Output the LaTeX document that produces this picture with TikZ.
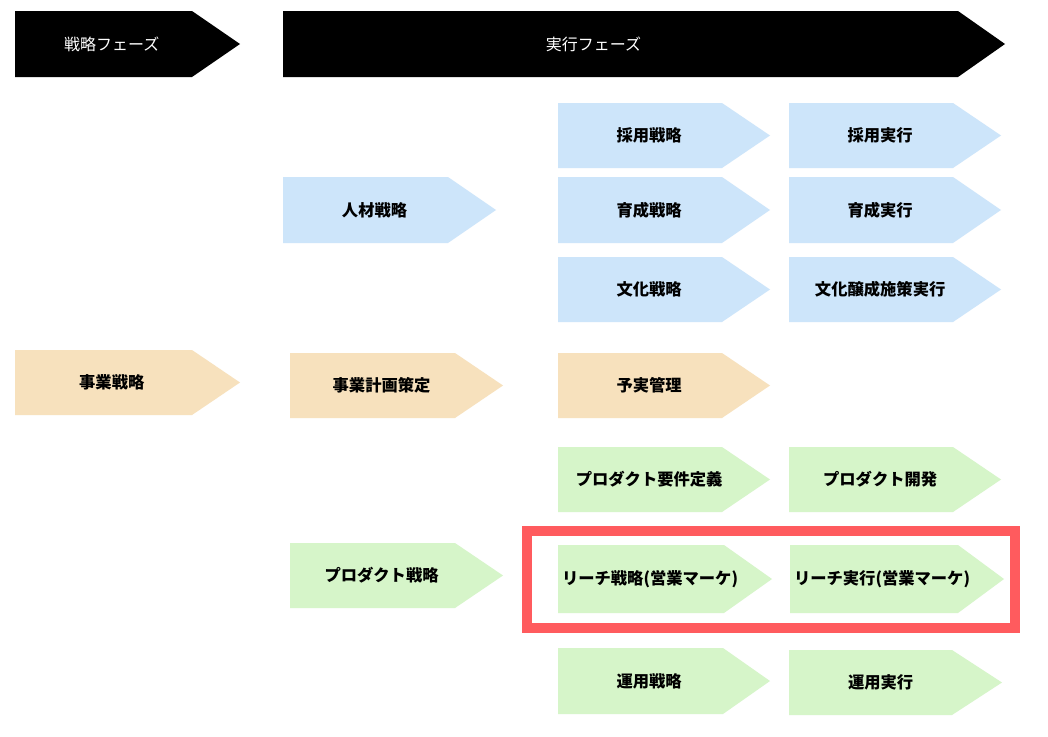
\documentclass[tikz,border=0pt]{standalone}
\usepackage{fontspec}
\setmainfont{Noto Sans CJK JP}
\definecolor{cblue}{HTML}{CDE5FA}
\definecolor{ctan}{HTML}{F7E1BD}
\definecolor{cgreen}{HTML}{D6F5C9}
\definecolor{cred}{HTML}{FF5B5E}
\tikzset{
  lbl/.style={font=\bfseries\fontsize{16.3}{18}\selectfont, text=black, inner sep=0pt},
  hlbl/.style={font=\fontsize{16}{18}\selectfont, text=white, inner sep=0pt},
}
% name, left, top, width, height, depth, fill, text, label style
\newcommand\chev[9]{%
  \fill[#7] (#2,#3) -- ++(#4-#6,0) -- ++(#6,#5/2) -- ++(-#6,#5/2) -- ++(#6-#4,0) -- cycle;
  \node[#9] (#1) at ({#2+0.43*#4},{#3+#5/2}) {#8};}
\begin{document}
\begin{tikzpicture}[x=1pt,y=-1pt]
\useasboundingbox (0,0) rectangle (1048,736);
\fill[white] (0,0) rectangle (1048,736);
\chev{ph1}{15}{11}{225}{66}{48}{black}{戦略フェーズ}{hlbl}
\chev{ph2}{283}{11}{722}{66}{47}{black}{実行フェーズ}{hlbl}
\chev{saiyoS}{558}{103}{212}{65}{48}{cblue}{採用戦略}{lbl}
\chev{saiyoJ}{789}{103}{212}{65}{48}{cblue}{採用実行}{lbl}
\chev{jinzai}{283}{177}{213}{66}{48}{cblue}{人材戦略}{lbl}
\chev{ikuseiS}{558}{177}{212}{66}{48}{cblue}{育成戦略}{lbl}
\chev{ikuseiJ}{789}{177}{212}{66}{48}{cblue}{育成実行}{lbl}
\chev{bunkaS}{558}{257}{212}{65}{48}{cblue}{文化戦略}{lbl}
\chev{bunkaJ}{789}{257}{212}{65}{48}{cblue}{文化醸成施策実行}{lbl}
\chev{jigyo}{15}{350}{225}{65}{48}{ctan}{事業戦略}{lbl}
\chev{keikaku}{290}{353}{213}{65}{48}{ctan}{事業計画策定}{lbl}
\chev{yojitsu}{558}{353}{212}{65}{48}{ctan}{予実管理}{lbl}
\chev{youken}{558}{447}{212}{65}{48}{cgreen}{プロダクト要件定義}{lbl}
\chev{kaihatsu}{789}{447}{212}{65}{48}{cgreen}{プロダクト開発}{lbl}
\chev{prodS}{290}{543}{213}{65}{48}{cgreen}{プロダクト戦略}{lbl}
\chev{reachS}{558}{545}{214}{68}{48}{cgreen}{リーチ戦略(営業マーケ)}{lbl}
\chev{reachJ}{790}{545}{214}{68}{46}{cgreen}{リーチ実行(営業マーケ)}{lbl}
\chev{unyoS}{558}{648}{212}{66}{47}{cgreen}{運用戦略}{lbl}
\chev{unyoJ}{789}{650}{213}{65}{50}{cgreen}{運用実行}{lbl}
\draw[cred, line width=10pt] (527,531) rectangle (1015,628);
\end{tikzpicture}
\end{document}
